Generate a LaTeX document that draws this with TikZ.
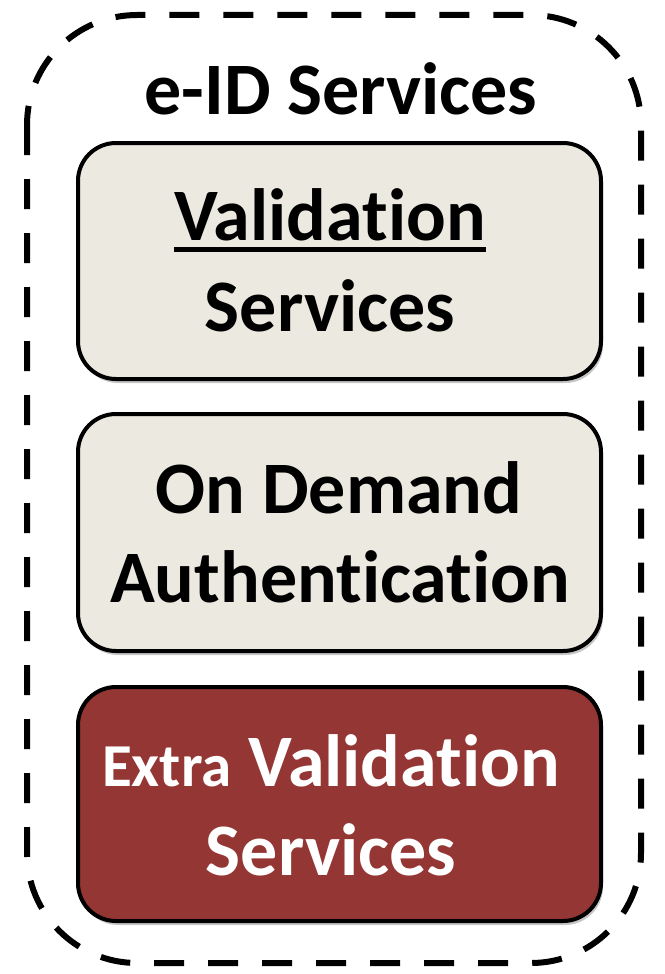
\documentclass[tikz,border=0pt]{standalone}
\usepackage{fontspec}
\setmainfont[RawFeature=-liga]{Carlito}
\usetikzlibrary{shadows}
\definecolor{boxfill}{HTML}{ECE9E0}
\definecolor{redfill}{HTML}{943634}
\tikzset{
  outerbox/.style={draw=black, line width=6pt, dash pattern=on 30pt off 24pt, rounded corners=110pt},
  svcbox/.style={draw=black, line width=4pt, rounded corners=38pt, fill=boxfill,
    drop shadow={shadow xshift=2pt, shadow yshift=-4pt, opacity=0.45}},
  redbox/.style={svcbox, fill=redfill},
  big/.style={font=\fontsize{74}{80}\selectfont\bfseries, anchor=base, inner sep=0pt},
}
\begin{document}
\begin{tikzpicture}[x=1pt,y=-1pt]
\useasboundingbox (0,0) rectangle (664,974);
\draw[outerbox] (27,15) rectangle (641,963);
\node[big] (title) at (341,114) {e-ID Services};
\draw[svcbox] (78,143) rectangle (601,379);
\node[big] (v1) at (330,240) {Validation};
\draw[line width=4.5pt] ([yshift=-9.5pt]v1.base west) -- ([yshift=-9.5pt]v1.base east);
\node[big] (s1) at (330,331) {Services};
\draw[svcbox] (78,414) rectangle (601,651);
\node[big] (od) at (339,513) {On Demand};
\node[big] (au) at (340,602) {Authentication};
\draw[redbox] (78,687) rectangle (601,921);
\node[big, text=white] (ev) at (331,786) {{\fontsize{61}{66}\selectfont Extra} Validation};
\node[big, text=white] (s3) at (331,875) {Services};
\end{tikzpicture}
\end{document}
